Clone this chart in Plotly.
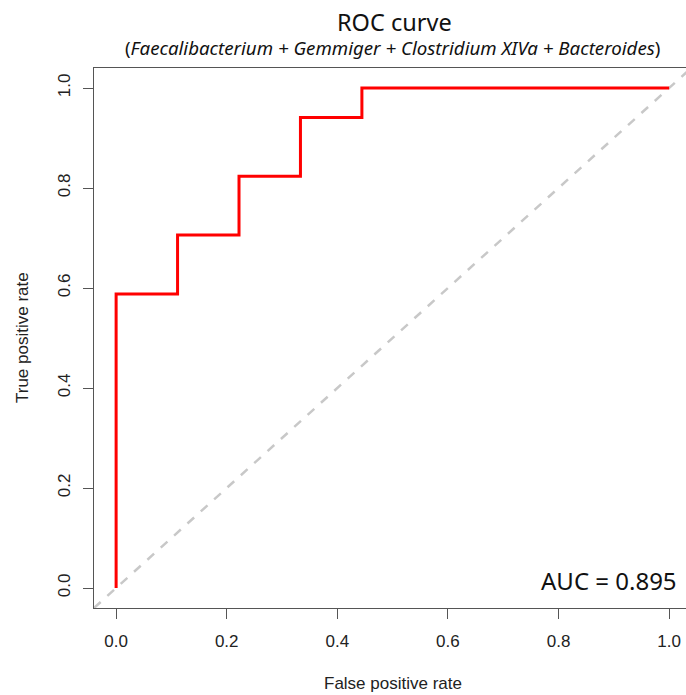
import plotly.graph_objects as go

# ROC curve data (steps)
fpr = [0, 0, 1/9, 2/9, 3/9, 4/9, 1]
tpr = [0, 10/17, 12/17, 14/17, 16/17, 1, 1]
diag = [-0.04, 1.04]
tick_vals = [0, 0.2, 0.4, 0.6, 0.8, 1.0]
tick_text = ["0.0", "0.2", "0.4", "0.6", "0.8", "1.0"]
auc_text = "AUC = 0.895"
title_text = "ROC curve"
subtitle_text = "(<i>Faecalibacterium + Gemmiger + Clostridium XIVa + Bacteroides</i>)"
xlabel = "False positive rate"
ylabel = "True positive rate"

# the reference's plot box is cut off by the right window edge
unit = 553  # px per unit on x
L, T = 94, 68
W, H = 686, 695
B = H - 608
xmax = -0.04 + (W - L) / unit

fig = go.Figure()
fig.add_trace(go.Scatter(x=diag, y=diag, mode="lines",
                         line=dict(color="#c8c8c8", width=2.5, dash="dash"),
                         hoverinfo="skip", showlegend=False))
fig.add_trace(go.Scatter(x=fpr, y=tpr, mode="lines", line_shape="hv",
                         line=dict(color="#ff0000", width=3),
                         showlegend=False))

axis_font = dict(family="Liberation Sans, Arial, sans-serif", size=17, color="#222")
common = dict(tickvals=tick_vals, ticktext=tick_text,
              ticks="outside", ticklen=10, tickcolor="#555", tickwidth=1,
              showline=True, linecolor="#555", linewidth=1,
              showgrid=False, zeroline=False, tickfont=axis_font, automargin=False)
pw = W - L
fig.update_layout(
    width=W, height=H,
    margin=dict(l=L, r=0, t=T, b=B),
    plot_bgcolor="white", paper_bgcolor="white",
    xaxis=dict(range=[-0.04, xmax], mirror=True, ticklabelstandoff=8, **common),
    yaxis=dict(range=[-0.04, 1.04], mirror=False, tickangle=-90,
               ticklabelstandoff=6, **common),
    annotations=[
        dict(text=title_text, xref="paper", yref="paper", x=(394 - L) / pw, y=1,
             yshift=46, xanchor="center", yanchor="middle", showarrow=False,
             font=dict(family="Noto Sans, sans-serif", size=23.5, color="#111")),
        dict(text=subtitle_text,
             xref="paper", yref="paper", x=(392 - L) / pw, y=1, yshift=21,
             xanchor="center", yanchor="middle", showarrow=False,
             font=dict(family="Noto Sans, sans-serif", size=18.7, color="#111")),
        dict(text=auc_text, xref="x", yref="y", x=1.018, y=0.016,
             xanchor="right", yanchor="middle", showarrow=False,
             font=dict(family="Noto Sans, sans-serif", size=24, color="#111")),
        dict(text=xlabel, xref="paper", yref="paper", x=(393 - L) / pw, y=0,
             yshift=-75, xanchor="center", yanchor="middle", showarrow=False,
             font=axis_font),
        dict(text=ylabel, xref="paper", yref="paper", x=0, y=0.5, xshift=-72,
             textangle=-90, xanchor="center", yanchor="middle", showarrow=False,
             font=axis_font),
    ],
)
fig.write_html("out.html",
               config={"displayModeBar": False},
               post_script="document.body.style.margin='0';"
                           "document.body.style.overflow='hidden';"
                           "document.documentElement.style.overflow='hidden';")
